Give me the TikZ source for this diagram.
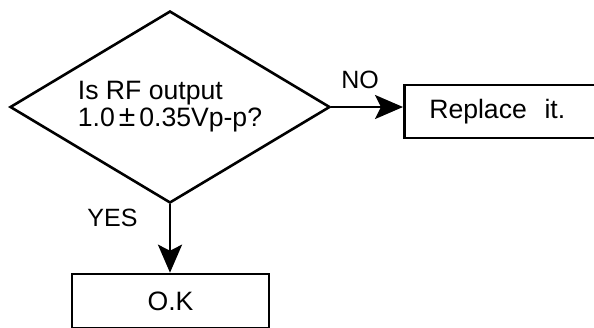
\documentclass[tikz,border=0pt]{standalone}
\usepackage{fontspec}
\setmainfont{Liberation Sans}
\usetikzlibrary{shapes.geometric,arrows.meta,positioning}
\tikzset{
  decision/.style={draw, diamond, aspect=1.667, line width=1.3pt,
    minimum width=160pt, minimum height=96pt, inner sep=0pt,
    align=left, font=\fontsize{13.3}{13.5}\selectfont},
  process/.style={draw, rectangle, line width=1.3pt,
    font=\fontsize{13.3}{15}\selectfont},
  flow/.style={-{Stealth[length=14pt,width=12pt,inset=3pt]}, line width=1.3pt},
  tag/.style={font=\fontsize{12.5}{14}\selectfont, inner sep=0pt}
}
\begin{document}
\begin{tikzpicture}[x=0.5pt,y=-0.5pt]
  \clip (0,0) rectangle (594,327);
  \node[decision] (check) at (170,107)
    {Is RF output\\1.0\hspace{0.15em}{\fontsize{15}{13.5}\selectfont ±}\hspace{0.15em}0.35Vp-p?};
  \node[process, anchor=west, text width=100pt, inner xsep=12.5pt,
    minimum height=26.5pt, align=left] (replace) at (403,111.5) {Replace\ \ it.};
  \node[process, minimum width=98.5pt, minimum height=27pt] (ok) at (170.5,301) {O.K};
  % branches
  \draw[flow] (check.east) -- (check.east -| replace.west);
  \draw[flow] (check.south) -- (check.south |- ok.north);
  \node[tag] (no) at (360,80) {NO};
  \node[tag] (yes) at (112.5,218) {YES};
\end{tikzpicture}
\end{document}
